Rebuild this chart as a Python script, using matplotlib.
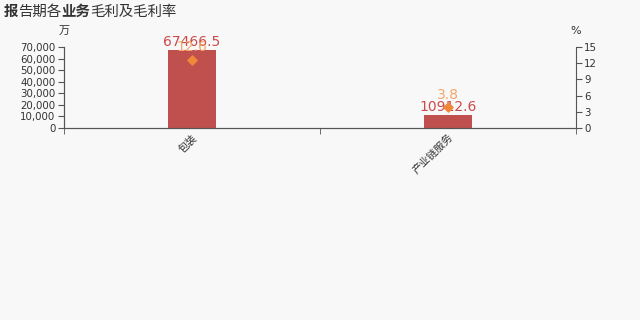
import matplotlib
matplotlib.use('Agg')
import numpy as np
from matplotlib import pyplot as plt

plt.rcParams['font.family'] = ['Noto Sans CJK SC', 'DejaVu Sans']

categories = ['包装', '产业链服务']
gross_profit = [67466.5, 10912.6]   # 万
gross_margin = [12.6, 3.8]          # %

bar_color = '#c0504d'
label_red = '#cc4a4a'
margin_color = '#f0883a'
margin_text = '#f5a66a'
bg = '#f8f8f8'
axis_color = '#555555'
text_color = '#333333'

fig = plt.figure(figsize=(6.4, 3.2), dpi=100, facecolor=bg)
ax = fig.add_axes([0.1, 0.6, 0.8, 0.253], facecolor=bg)
ax2 = ax.twinx()

x = np.arange(len(categories))
ax.bar(x, gross_profit, width=0.19, color=bar_color, zorder=2)
ax.set_xlim(-0.5, len(categories) - 0.5)
ax.set_ylim(0, 70000)
ax.set_yticks(np.arange(0, 70001, 10000))
ax.set_yticklabels([f'{v:,}' for v in range(0, 70001, 10000)], family='DejaVu Sans')

ax2.scatter(x, gross_margin, marker='D', s=22, color=margin_color, zorder=3)
ax2.set_ylim(0, 15)
ax2.set_yticks(np.arange(0, 16, 3))
ax2.set_yticklabels([str(v) for v in range(0, 16, 3)], family='DejaVu Sans')

for xi, v in zip(x, gross_profit):
    ax.annotate(f'{v}', (xi, v), xytext=(0, 1), textcoords='offset points',
                ha='center', va='bottom', fontsize=10, color=label_red,
                family='DejaVu Sans')
for xi, v in zip(x, gross_margin):
    ax2.annotate(f'{v}', (xi, v), xytext=(0, 4), textcoords='offset points',
                 ha='center', va='bottom', fontsize=10, color=margin_text,
                 family='DejaVu Sans')

ax.set_xticks(x)
ax.set_xticklabels(categories, rotation=45, ha='right', rotation_mode='anchor',
                   fontsize=7.5, color=text_color)
ax.set_xticks(np.arange(-0.5, len(categories), 1), minor=True)
ax.tick_params(axis='x', which='major', length=0, pad=3)
ax.tick_params(axis='x', which='minor', length=4, color=axis_color)

for a in (ax, ax2):
    a.spines['top'].set_visible(False)
    a.spines['bottom'].set_color(axis_color)
    a.tick_params(axis='y', labelsize=7.4, labelcolor=text_color, color=axis_color,
                  length=4, pad=2)
ax.spines['right'].set_visible(False)
ax2.spines['left'].set_color(axis_color)
ax2.spines['right'].set_color(axis_color)
ax.spines['left'].set_color(axis_color)

ax.text(0.0, 1.14, '万', transform=ax.transAxes, ha='center', va='bottom',
        fontsize=8, color=text_color)
ax2.text(1.0, 1.14, '%', transform=ax2.transAxes, ha='center', va='bottom',
         fontsize=8, color=text_color, family='DejaVu Sans')

# title with bold pieces
parts = [('报', 'bold'), ('告期各', 'normal'), ('业务', 'bold'), ('毛利及毛利率', 'normal')]
renderer = fig.canvas.get_renderer()
xpos = 4 / 640
for txt, w in parts:
    t = fig.text(xpos, 1 - 12 / 320, txt, fontsize=10.4, fontweight=w,
                 color=text_color, ha='left', va='center')
    bb = t.get_window_extent(renderer=renderer)
    xpos += bb.width / fig.bbox.width

fig.savefig('out.png', dpi=100, facecolor=bg)
